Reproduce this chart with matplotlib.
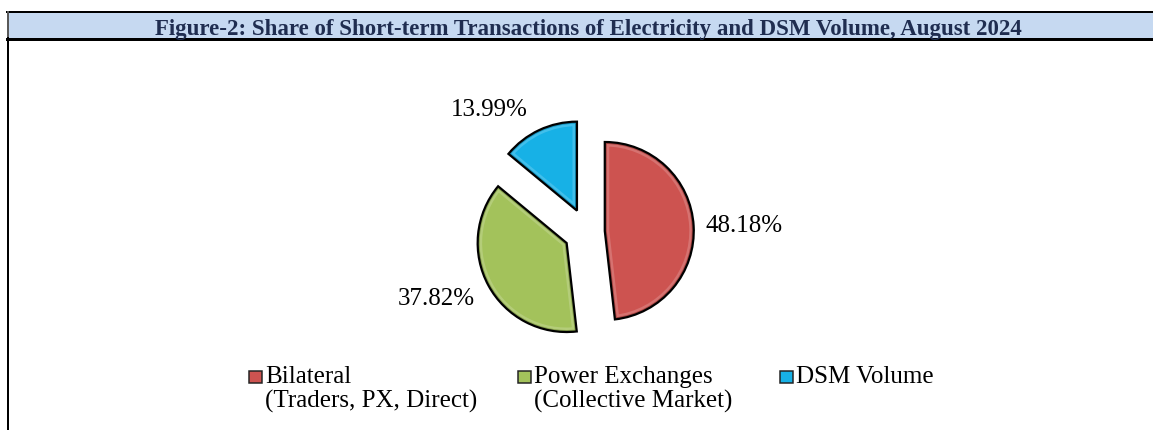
import matplotlib.pyplot as plt
import matplotlib.patches as patches
from matplotlib.colors import to_rgb

plt.rcParams['font.family'] = ['Liberation Serif', 'DejaVu Serif']

# data
categories = ["Bilateral", "Power Exchanges", "DSM Volume"]
sub_labels = ["(Traders, PX, Direct)", "(Collective Market)", ""]
shares = [48.18, 37.82, 13.99]
colors = ["#CD5350", "#A3C25B", "#17B1E6"]
explode = [0.20, 0.26, 0.265]   # fraction of radius
title = "Figure-2: Share of Short-term Transactions of Electricity and DSM Volume, August 2024"

W, H = 1153, 430
R = 89


def Y(y):
    # image y (down) -> axis y (up)
    return H - y


def px(p):
    return p * 72 / 100


def mix(c, t, amount):
    a, b = to_rgb(c), to_rgb(t)
    return tuple(x + (y - x) * amount for x, y in zip(a, b))


fig = plt.figure(figsize=(W / 100, H / 100), dpi=100)
ax = fig.add_axes([0, 0, 1, 1])

# pie (matplotlib explode is in data units, so scale by radius)
wedges, _ = ax.pie(shares, colors=colors, startangle=90, counterclock=False,
                   center=(587, Y(232)), radius=R,
                   explode=[e * R for e in explode],
                   wedgeprops=dict(edgecolor="none", linewidth=0))

# bevel-ish rim + black outline
for w, c in zip(wedges, colors):
    rim = patches.Wedge(w.center, w.r, w.theta1, w.theta2, facecolor="none",
                        edgecolor=mix(c, "white", 0.18), linewidth=px(9), zorder=3)
    rim.set_clip_path(w)
    ax.add_patch(rim)
    inner = patches.Wedge(w.center, w.r, w.theta1, w.theta2, facecolor="none",
                          edgecolor=mix(c, "black", 0.2), linewidth=px(4), zorder=3)
    inner.set_clip_path(w)
    ax.add_patch(inner)
    ax.add_patch(patches.Wedge(w.center, w.r, w.theta1, w.theta2, facecolor="none",
                               edgecolor="black", linewidth=px(2.2), zorder=4))

# percentage labels
label_pos = [(744, 226), (436, 299), (489, 110)]
for v, (lx, ly) in zip(shares, label_pos):
    ax.text(lx, Y(ly), f"{v:.2f}%", ha="center", va="center", fontsize=18)

# title bar
ax.add_patch(patches.Rectangle((8, Y(38)), W - 8, 26, facecolor="#C6D9F1",
                               edgecolor="none", zorder=1))
ax.plot([7, W], [Y(12), Y(12)], color="black", lw=px(2))
ax.plot([7, W], [Y(38.5), Y(38.5)], color="black", lw=px(3))
ax.plot([8, 8], [Y(12), Y(38)], color="#595959", lw=px(2))
ax.plot([8, 8], [Y(38), 0], color="black", lw=px(2))
ax.text(155, Y(34.5), title, ha="left", va="baseline", fontsize=16.5,
        fontweight="bold", color="#1F2D50")

# legend
leg_x = [249, 518, 780]
for x, name, sub, c in zip(leg_x, categories, sub_labels, colors):
    ax.add_patch(patches.Rectangle((x, Y(383)), 13, 12, facecolor=c,
                                   edgecolor="#222222", linewidth=px(1.5)))
    ax.text(x + 16, Y(383), name, ha="left", va="baseline", fontsize=18)
    if sub:
        ax.text(x + 16, Y(408), sub, ha="left", va="baseline", fontsize=18)

ax.set_xlim(0, W)
ax.set_ylim(0, H)
ax.set_aspect("auto")
ax.axis("off")

fig.savefig("out.png", dpi=100)
plt.close()
